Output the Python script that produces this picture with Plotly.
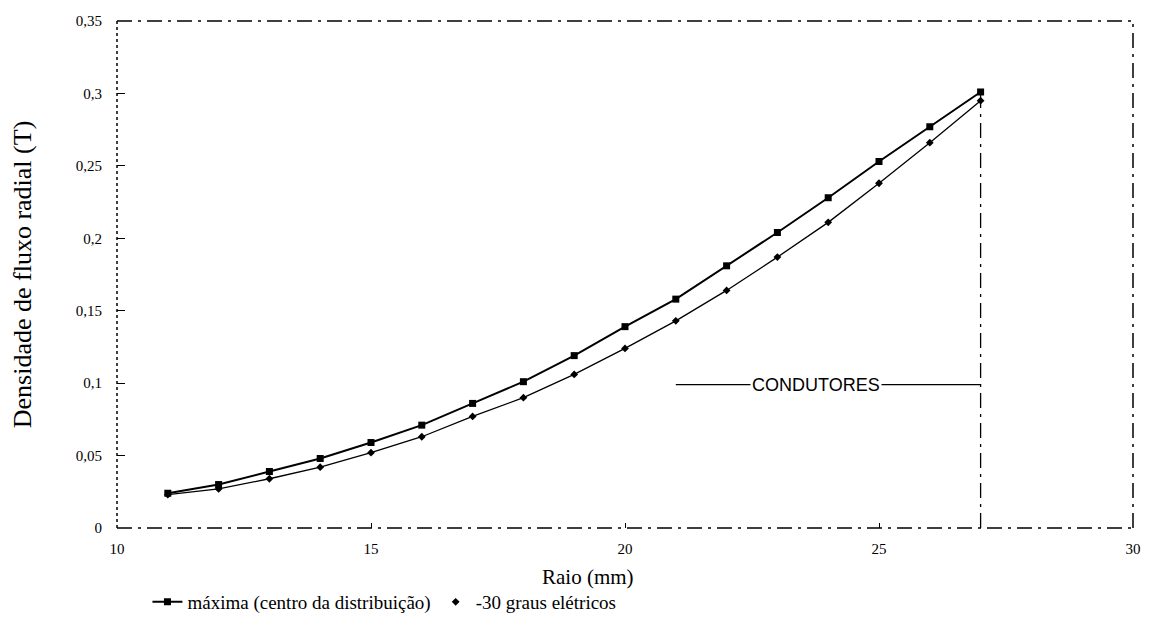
import plotly.graph_objects as go

# Raio (mm) e densidade de fluxo radial (T)
raio = [11, 12, 13, 14, 15, 16, 17, 18, 19, 20, 21, 22, 23, 24, 25, 26, 27]
b_maxima = [0.024, 0.030, 0.039, 0.048, 0.059, 0.071, 0.086, 0.101, 0.119,
            0.139, 0.158, 0.181, 0.204, 0.228, 0.253, 0.277, 0.301]
b_menos30 = [0.023, 0.027, 0.034, 0.042, 0.052, 0.063, 0.077, 0.090, 0.106,
             0.124, 0.143, 0.164, 0.187, 0.211, 0.238, 0.266, 0.295]

nome_maxima = "máxima (centro da distribuição)"
nome_menos30 = "-30 graus elétricos"

# Região dos condutores
raio_condutores = 27
raio_inicio_cota = 21
b_cota = 0.099
raio_texto_cota = 23.75
texto_cota = "CONDUTORES"

x_ticks = [10, 15, 20, 25, 30]
y_ticks = [0, 0.05, 0.1, 0.15, 0.2, 0.25, 0.3, 0.35]

SERIF = "Liberation Serif, Times New Roman, serif"
SANS = "Liberation Sans, Arial, sans-serif"

fig = go.Figure()

fig.add_trace(go.Scatter(
    x=raio, y=b_maxima, name=nome_maxima, mode="lines+markers",
    line=dict(color="black", width=2),
    marker=dict(symbol="square", size=7, color="black"),
))
fig.add_trace(go.Scatter(
    x=raio, y=b_menos30, mode="lines", showlegend=False,
    line=dict(color="black", width=1.3),
))
fig.add_trace(go.Scatter(
    x=raio, y=b_menos30, name=nome_menos30, mode="markers",
    marker=dict(symbol="diamond", size=6, color="black"),
))

# Cota dos condutores: linha vertical e linha horizontal com rótulo
fig.add_shape(type="line", xref="x", yref="y",
              x0=raio_condutores, x1=raio_condutores, y0=0, y1=b_maxima[-1],
              line=dict(color="black", width=1.3, dash="longdashdot"))
fig.add_shape(type="line", xref="x", yref="y",
              x0=raio_inicio_cota, x1=raio_condutores, y0=b_cota, y1=b_cota,
              line=dict(color="black", width=1.2))
fig.add_annotation(x=raio_texto_cota, y=b_cota,
                   text=texto_cota, showarrow=False, bgcolor="white",
                   font=dict(family=SANS, size=18, color="black"))

# Título do eixo x, deslocado para a esquerda do centro
fig.add_annotation(xref="paper", yref="paper", x=0.4636, y=-0.097,
                   xanchor="center", yanchor="middle", showarrow=False,
                   text="Raio (mm)", font=dict(family=SERIF, size=21, color="black"))

# Moldura tracejada
for x0, y0, x1, y1, d in [(0, 0, 1, 0, "longdashdot"), (0, 1, 1, 1, "longdashdot"),
                          (1, 0, 1, 1, "longdashdot"), (0, 0, 0, 1, "dot")]:
    fig.add_shape(type="line", xref="paper", yref="paper",
                  x0=x0, y0=y0, x1=x1, y1=y1,
                  line=dict(color="black", width=1.5, dash=d))

fig.update_layout(
    width=1152, height=629,
    paper_bgcolor="white", plot_bgcolor="white",
    separators=",.",
    margin=dict(l=117, r=19, t=21, b=101),
    font=dict(family=SERIF, color="black", size=15),
    showlegend=True,
    legend=dict(orientation="h", xref="container", yref="container",
                x=0.128, y=0.043, xanchor="left", yanchor="middle",
                font=dict(family=SERIF, size=19), bgcolor="rgba(0,0,0,0)",
                itemwidth=30, tracegroupgap=0),
)
fig.update_xaxes(
    range=[10, 30], tickvals=x_ticks, showgrid=False, zeroline=False,
    showline=False, ticks="inside", ticklen=5, tickcolor="black",
    tickfont=dict(family=SERIF, size=15), ticklabelstandoff=10,
    automargin=False,
)
fig.update_yaxes(
    range=[0, 0.35], tickvals=y_ticks, showgrid=False, zeroline=False,
    showline=False, ticks="inside", ticklen=8, tickcolor="black",
    tickfont=dict(family=SERIF, size=15), ticklabelstandoff=14,
    automargin=False,
    title=dict(text="Densidade de fluxo radial (T)",
               font=dict(family=SERIF, size=26), standoff=36),
)

fig.write_html("out.html")
